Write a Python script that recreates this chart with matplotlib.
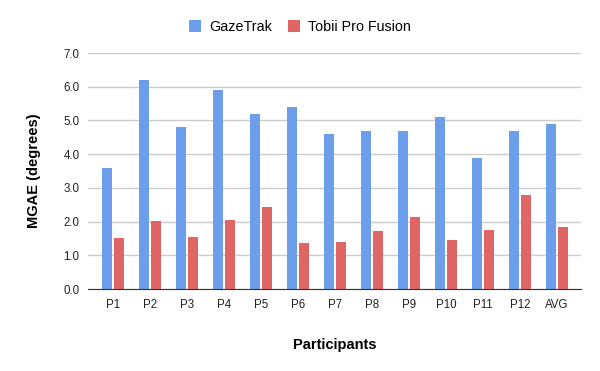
import matplotlib
matplotlib.use("Agg")
import matplotlib.pyplot as plt
import numpy as np

categories = ["P1", "P2", "P3", "P4", "P5", "P6", "P7", "P8", "P9", "P10", "P11", "P12", "AVG"]
gazetrak = [3.6, 6.2, 4.8, 5.9, 5.2, 5.4, 4.6, 4.7, 4.7, 5.1, 3.9, 4.7, 4.88]
tobii = [1.52, 2.03, 1.55, 2.06, 2.44, 1.37, 1.40, 1.73, 2.15, 1.46, 1.76, 2.80, 1.85]
yticks = [0, 1, 2, 3, 4, 5, 6, 7]

plt.rcParams['font.family'] = ['Liberation Sans', 'DejaVu Sans']

fig = plt.figure(figsize=(6, 3.71), dpi=100)
ax = fig.add_axes([88/600, 1-289/371, 493/600, 236/371])

x = np.arange(len(categories))
w = 0.27
off = 0.162
ax.bar(x - off, gazetrak, width=w, color="#6d9eeb", label="GazeTrak", zorder=3)
ax.bar(x + off, tobii, width=w, color="#e06666", label="Tobii Pro Fusion", zorder=3)

ax.set_xlim(-0.676, 12.65)
ax.set_ylim(0, 7)
ax.set_yticks(yticks)
ax.set_yticklabels([f"{v:.1f}" for v in yticks], fontsize=8.3, color="#222222")
ax.set_xticks(x)
ax.set_xticklabels(categories, fontsize=8.3, color="#222222")
ax.tick_params(axis="y", length=0, pad=6)
ax.tick_params(axis="x", length=0, pad=7)
ax.grid(axis="y", color="#cccccc", linewidth=1, zorder=0)
for s in ["top", "right", "left"]:
    ax.spines[s].set_visible(False)
ax.spines["bottom"].set_color("#333333")
ax.spines["bottom"].set_zorder(4)

ax.set_ylabel("MGAE (degrees)", fontsize=10.5, fontweight="bold", labelpad=16)
ax.set_xlabel("Participants", fontsize=10.5, fontweight="bold", labelpad=20)

fig.legend(loc="center", bbox_to_anchor=(0.5, 1-27/371), ncol=2, frameon=False,
           fontsize=10.3, handlelength=0.85, handleheight=0.85, columnspacing=1.1, handletextpad=0.55)

fig.savefig("out.png", dpi=100, facecolor="white")
